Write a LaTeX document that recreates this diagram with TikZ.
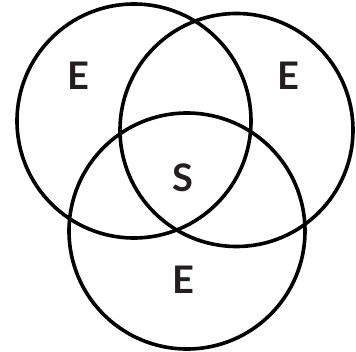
\documentclass[tikz,border=0pt]{standalone}
\usepackage{fontspec}
\setmainfont{Lato}
\usepackage{tikz}
\usetikzlibrary{positioning}
\definecolor{ink}{HTML}{231F20}

\begin{document}
\begin{tikzpicture}[x=1pt, y=-1pt,
  ring/.style={draw, circle, line width=3.6pt, inner sep=0pt},
  lbl/.style={font=\fontsize{38}{38}\selectfont\bfseries, text=ink, inner sep=0pt}]
\useasboundingbox (0,0) rectangle (356,351);
% three sets
\node[ring, minimum size=234pt] (left) at (134,121) {};
\node[ring, minimum size=233pt] (right) at (236.5,130) {};
\node[ring, minimum size=236pt] (bottom) at (187,231) {};
% labels
\node[lbl] (eleft) at (78,76) {E};
\node[lbl] (eright) at (288,76) {E};
\node[lbl] (mid) at (183,178) {S};
\node[lbl] (ebottom) at (183,280) {E};
\end{tikzpicture}
\end{document}
